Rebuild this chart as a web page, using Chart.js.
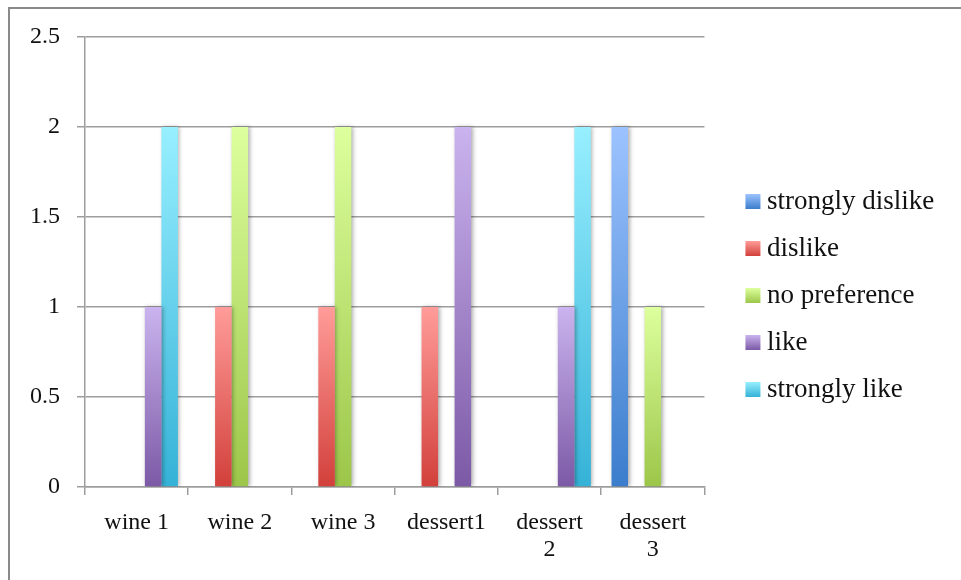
<!DOCTYPE html>
<html>
<head>
<meta charset="utf-8">
<script src="https://cdn.jsdelivr.net/npm/chart.js@4/dist/chart.umd.min.js"></script>
<style>
  html, body { margin: 0; padding: 0; background: #fff; }
  canvas { display: block; }
</style>
</head>
<body>
<canvas id="chart" width="961" height="580"></canvas>
<script>
// Tasting results: number of responses per rating for each item
const categories = ['wine 1', 'wine 2', 'wine 3', 'dessert1', ['dessert', '2'], ['dessert', '3']];
const seriesNames = ['strongly dislike', 'dislike', 'no preference', 'like', 'strongly like'];
const stronglyDislike = [0, 0, 0, 0, 0, 2];
const dislike         = [0, 1, 1, 1, 0, 0];
const noPreference    = [0, 2, 2, 0, 0, 1];
const like            = [1, 0, 0, 2, 1, 0];
const stronglyLike    = [2, 0, 0, 0, 2, 0];
const yTickLabels = ['0', '0.5', '1', '1.5', '2', '2.5'];

const seriesValues = [stronglyDislike, dislike, noPreference, like, stronglyLike];

// light (top) -> dark (bottom) fill per series
const shades = [
  ['#9cc3ff', '#3b7dcc'],
  ['#ff9c99', '#d2403b'],
  ['#ddff9d', '#9cc649'],
  ['#cab3ee', '#7c59a6'],
  ['#97efff', '#35b2d7']
];

const gridColor = '#9d9d9d';
const textColor = '#111111';
const fontFamily = '"Liberation Serif", "Times New Roman", serif';
const axisFont = { family: fontFamily, size: 24, lineHeight: 1.12 };
const legendFont = { family: fontFamily, size: 27 };

// legend geometry
const legendBoxSize = 15;
const legendBoxOffset = 21;
const legendLabelBox = 29;
const legendRowGap = 47 - legendFont.size;
const legendFirstRowTop = 188;
const plotTop = 37;
const plotRight = 704;

function barFill(i) {
  return (ctx) => {
    const chart = ctx.chart;
    const y = chart.scales.y;
    if (!chart.chartArea || ctx.type !== 'data' || !y) return shades[i][1];
    const top = y.getPixelForValue(ctx.raw);
    const base = y.getPixelForValue(0);
    if (Math.abs(base - top) < 1) return shades[i][1];
    const g = chart.ctx.createLinearGradient(0, top, 0, base);
    g.addColorStop(0, shades[i][0]);
    g.addColorStop(1, shades[i][1]);
    return g;
  };
}

// white page with the outer chart frame
const framePlugin = {
  id: 'frame',
  beforeDraw(chart) {
    const c = chart.ctx;
    c.save();
    c.fillStyle = '#ffffff';
    c.fillRect(0, 0, chart.width, chart.height);
    c.strokeStyle = '#8a8a8a';
    c.lineWidth = 2;
    c.beginPath();
    c.moveTo(9, chart.height);
    c.lineTo(9, 8);
    c.lineTo(chart.width, 8);
    c.stroke();
    c.restore();
  }
};

// soft drop shadow behind the bars
const barShadowPlugin = {
  id: 'barShadow',
  beforeDatasetsDraw(chart) {
    const c = chart.ctx;
    c.save();
    c.shadowColor = 'rgba(0,0,0,0.32)';
    c.shadowBlur = 4;
    c.shadowOffsetX = 1.5;
    c.shadowOffsetY = 0;
  },
  afterDatasetsDraw(chart) {
    chart.ctx.restore();
  }
};

// gradient swatches in the legend
const legendSwatchPlugin = {
  id: 'legendSwatch',
  afterDraw(chart) {
    const lg = chart.legend;
    if (!lg || !lg.legendHitBoxes) return;
    const c = chart.ctx;
    c.save();
    lg.legendHitBoxes.forEach((hb, i) => {
      const x = hb.left + legendBoxOffset;
      const y = hb.top + (hb.height - legendBoxSize) / 2;
      const g = c.createLinearGradient(0, y, 0, y + legendBoxSize);
      g.addColorStop(0, shades[i][0]);
      g.addColorStop(1, shades[i][1]);
      c.fillStyle = g;
      c.fillRect(x, y, legendBoxSize, legendBoxSize);
    });
    c.restore();
  }
};

const chart = new Chart(document.getElementById('chart'), {
  type: 'bar',
  data: {
    labels: categories,
    datasets: seriesValues.map((values, i) => ({
      label: seriesNames[i],
      data: values,
      backgroundColor: barFill(i),
      borderWidth: 0,
      categoryPercentage: 0.8,
      barPercentage: 1
    }))
  },
  options: {
    responsive: false,
    animation: false,
    devicePixelRatio: 1,
    layout: { padding: { top: plotTop, bottom: 0, left: 0, right: 20 } },
    scales: {
      x: {
        grid: { drawOnChartArea: false, offset: true, tickLength: 8, color: gridColor, lineWidth: 1.5 },
        border: { color: gridColor, width: 1.5 },
        ticks: { font: axisFont, color: textColor, padding: 14, maxRotation: 0, autoSkip: false },
        afterFit(scale) { scale.height = 93; }
      },
      y: {
        min: 0,
        max: 2.5,
        ticks: {
          stepSize: 0.5,
          font: axisFont,
          color: textColor,
          padding: 17,
          callback: (value, index) => yTickLabels[index]
        },
        grid: { color: gridColor, lineWidth: 1.5, tickLength: 8 },
        border: { color: gridColor, width: 1.5 },
        afterFit(scale) { scale.width = 85; }
      }
    },
    plugins: {
      tooltip: { enabled: false },
      legend: {
        position: 'right',
        align: 'start',
        // empty title only reserves the space above the first entry
        title: {
          display: true,
          text: '',
          font: { size: 10, lineHeight: 1 },
          padding: { top: legendFirstRowTop - plotTop - legendRowGap - 10, bottom: 0 }
        },
        labels: {
          boxWidth: legendLabelBox,
          boxHeight: legendBoxSize,
          padding: legendRowGap,
          font: legendFont,
          color: textColor,
          generateLabels(chart) {
            return Chart.defaults.plugins.legend.labels.generateLabels(chart).map(item => ({
              ...item,
              fillStyle: 'rgba(0,0,0,0)',
              strokeStyle: 'rgba(0,0,0,0)',
              lineWidth: 0
            }));
          }
        }
      }
    }
  },
  plugins: [framePlugin, barShadowPlugin, legendSwatchPlugin]
});

// size the right margin so the plot area ends at plotRight
const extra = chart.chartArea.right - plotRight;
if (Math.abs(extra) > 0.5) {
  chart.options.layout.padding.right = Math.max(0, 20 + extra);
  chart.update();
}
</script>
</body>
</html>
